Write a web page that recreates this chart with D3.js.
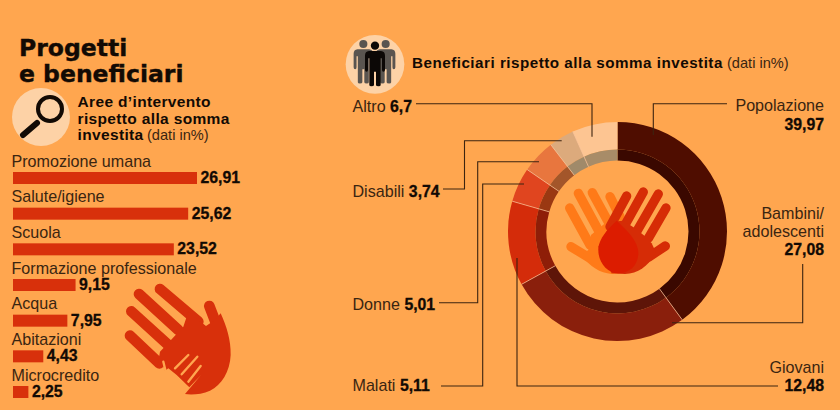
<!DOCTYPE html>
<html>
<head>
<meta charset="utf-8">
<script src="https://cdn.jsdelivr.net/npm/d3@7"></script>
<style>
  html, body { margin: 0; padding: 0; background: #ffa64f; }
  svg { display: block; font-family: "Liberation Sans", sans-serif; }
</style>
</head>
<body>
<div id="chart"></div>
<script>
// Aree d'intervento
const areeNomi = ["Promozione umana", "Salute/igiene", "Scuola", "Formazione professionale", "Acqua", "Abitazioni", "Microcredito"];
const areeValori = [26.91, 25.62, 23.52, 9.15, 7.95, 4.43, 2.25];

// Beneficiari, clockwise from the top
const benefNomi = ["Popolazione", "Bambini/adolescenti", "Giovani", "Malati", "Donne", "Disabili", "Altro"];
const benefValori = [39.97, 27.08, 12.48, 5.11, 5.01, 3.74, 6.7];

const coloriEsterni = ["#4f0d00", "#8a1f0c", "#d42c0a", "#e0451f", "#e8763e", "#dcaa7c", "#fdc592"];
const coloriInterni = ["#3a0800", "#5e1508", "#8e1e08", "#9a3812", "#a3562a", "#a08a6a", "#a88c68"];

const width = 840, height = 410;
const bg = "#ffa64f", ink = "#120a04", labelInk = "#3a2511", red = "#d8300b";
const fmt = (v) => String(v).replace(".", ",");

const svg = d3.select("#chart").append("svg").attr("width", width).attr("height", height);
svg.append("rect").attr("width", width).attr("height", height).attr("fill", bg);

// Title
["Progetti", "e beneficiari"].forEach((t, i) => {
  svg.append("text").attr("x", 19).attr("y", 56 + i * 26).attr("font-family", "DejaVu Sans")
    .attr("font-size", 23.5).attr("font-weight", 700).attr("fill", ink)
    .attr("stroke", ink).attr("stroke-width", 0.4).text(t);
});

// Magnifier icon
const lens = svg.append("g");
lens.append("circle").attr("cx", 41).attr("cy", 117).attr("r", 29).attr("fill", "#fdd2a6");
lens.append("circle").attr("cx", 50).attr("cy", 109).attr("r", 12).attr("fill", "none").attr("stroke", ink).attr("stroke-width", 4);
lens.append("line").attr("x1", 23).attr("y1", 135).attr("x2", 37).attr("y2", 123)
  .attr("stroke", ink).attr("stroke-width", 6).attr("stroke-linecap", "round");

// Left sub heading
["Aree d\u2019intervento", "rispetto alla somma", "investita"].forEach((t, i) => {
  svg.append("text").attr("x", 77.5).attr("y", 107 + i * 16.5).attr("font-size", 15.5)
    .attr("letter-spacing", 0.35).attr("font-weight", 700).attr("fill", ink).text(t);
});
svg.append("text").attr("x", 147).attr("y", 140).attr("font-size", 14.6).attr("fill", labelInk).text("(dati in%)");

// Bars
const x = d3.scaleLinear().domain([0, 26.91]).range([0, 184]);
const y = d3.scalePoint().domain(areeNomi).range([172, 386]);
const barH = 12;

const righe = svg.append("g").selectAll("g").data(areeNomi).join("g");
righe.append("rect")
  .attr("x", 13).attr("y", (d) => y(d))
  .attr("width", (d, i) => x(areeValori[i])).attr("height", barH)
  .attr("fill", red);
righe.append("text")
  .attr("x", 11.5).attr("y", (d) => y(d) - 5.5)
  .attr("font-size", 16.1).attr("fill", labelInk).text((d) => d);
righe.append("text")
  .attr("x", (d, i) => 13 + x(areeValori[i]) + 3.5).attr("y", (d) => y(d) + 11)
  .attr("font-size", 15.8).attr("font-weight", 700).attr("fill", ink)
  .attr("stroke", ink).attr("stroke-width", 0.3)
  .text((d, i) => fmt(areeValori[i]));

// Hand with small hand, bottom left
const mano = svg.append("g").attr("transform", "translate(120,280) scale(0.3333)");
[[[120, 27], [235, 125]], [[57, 42], [175, 150]], [[34, 94], [145, 195]], [[30, 167], [118, 250]], [[268, 78], [290, 135]]].forEach((f) => {
  mano.append("path").attr("d", d3.line()(f)).attr("stroke", red).attr("stroke-width", 32)
    .attr("stroke-linecap", "round").attr("fill", "none");
});
mano.append("path")
  .attr("d", "M205,95 L258,138 L285,120 L302,100 C320,140 333,180 332,225 C330,275 305,315 270,332 C245,343 215,345 195,342 L243,285 L208,322 L170,285 L145,265 L135,272 L125,245 L112,262 L120,215 L155,178 L190,140 Z")
  .attr("fill", red);
[[[165, 265], [205, 225]], [[185, 283], [232, 230]], [[205, 305], [242, 258]], [[130, 245], [136, 270]]].forEach((f) => {
  mano.append("path").attr("d", d3.line()(f)).attr("stroke", bg).attr("stroke-width", 7)
    .attr("stroke-linecap", "round").attr("fill", "none");
});

// People icon
const gente = svg.append("g").attr("transform", "translate(340,30) scale(0.3333)");
gente.append("circle").attr("cx", 105).attr("cy", 103).attr("r", 88).attr("fill", "#fdd2a6");
const persona = (cx, cy, k, col) => {
  const g = gente.append("g").attr("transform", `translate(${cx},${cy}) scale(${k})`).attr("fill", col);
  g.append("circle").attr("cx", 0).attr("cy", 0).attr("r", 12.5);
  g.append("path").attr("d", "M-18,16 L18,16 Q30,17 30,30 L30,72 Q30,78 25,78 Q21,78 21,72 L21,38 L17,38 L17,118 Q17,122 11,122 Q3,122 3,118 L3,78 L-3,78 L-3,118 Q-3,122 -11,122 Q-17,122 -17,118 L-17,38 L-21,38 L-21,72 Q-21,78 -25,78 Q-30,78 -30,72 L-30,30 Q-30,17 -18,16 Z");
};
persona(70, 42, 0.97, "#5a5550");
persona(137, 42, 0.97, "#5a5550");
persona(105, 47, 1, "#0c0806");

// Right heading
svg.append("text").attr("x", 412).attr("y", 68).attr("font-size", 15.2).attr("letter-spacing", 0.5)
  .attr("font-weight", 700).attr("fill", ink).text("Beneficiari rispetto alla somma investita");
svg.append("text").attr("x", 727).attr("y", 68).attr("font-size", 14.6).attr("fill", labelInk).text("(dati in%)");

// Donut
const cx = 617.5, cy = 231.5;
const pie = d3.pie().sort(null).value((d) => d);
const archi = pie(benefValori);
const esterno = d3.arc().innerRadius(82).outerRadius(109.5);
const interno = d3.arc().innerRadius(71).outerRadius(82);
const donut = svg.append("g").attr("transform", `translate(${cx},${cy})`);
donut.selectAll("path.est").data(archi).join("path").attr("class", "est")
  .attr("d", esterno).attr("fill", (d, i) => coloriEsterni[i]);
donut.selectAll("path.int").data(archi).join("path").attr("class", "int")
  .attr("d", interno).attr("fill", (d, i) => coloriInterni[i]);
// thin light separators between slices
donut.selectAll("line").data(archi.slice(1)).join("line")
  .attr("x1", (d) => d3.pointRadial(d.startAngle, 71)[0])
  .attr("y1", (d) => d3.pointRadial(d.startAngle, 71)[1])
  .attr("x2", (d) => d3.pointRadial(d.startAngle, 109.5)[0])
  .attr("y2", (d) => d3.pointRadial(d.startAngle, 109.5)[1])
  .attr("stroke", "#f6c4a0").attr("stroke-width", 0.7);

// Hands inside the donut
const mani = svg.append("g").attr("transform", "translate(555,180) scale(0.3333)");
const dito = (pts, col, w) => mani.append("path").attr("d", d3.line()(pts)).attr("stroke", col)
  .attr("stroke-width", w).attr("stroke-linecap", "round").attr("fill", "none");
const arancio = "#ff7a18", rosso = "#d62c06";
[[[44, 84], [105, 195]], [[70, 40], [135, 160]], [[112, 38], [165, 135]], [[165, 50], [195, 110]], [[48, 200], [105, 235]]].forEach((f) => dito(f, arancio, 28));
mani.append("path").attr("d", "M108,165 L152,128 L195,108 L235,200 L220,278 L170,282 C135,278 105,262 80,225 L100,210 Z").attr("fill", arancio);
[[[215, 48], [165, 140]], [[265, 36], [210, 135]], [[310, 42], [245, 155]], [[333, 84], [280, 175]], [[331, 198], [280, 232]]].forEach((f) => dito(f, rosso, 28));
mani.append("path").attr("d", "M170,125 L205,122 L240,145 L272,170 L290,190 L302,215 C285,255 250,282 210,282 L170,280 L130,200 Z").attr("fill", rosso);
mani.append("path").attr("d", "M185,122 C215,150 252,185 250,222 C248,258 222,280 190,280 C155,280 128,245 130,205 C132,175 160,145 185,122 Z").attr("fill", "#dc1c00");

// Leader lines
const linea = d3.line();
[
  [[416, 103.7], [592, 103.7], [592, 136.7]],
  [[443, 189], [464.5, 189], [464.5, 140.7], [561.7, 140.7]],
  [[439, 302.7], [477.7, 302.7], [477.7, 161.7], [539, 161.7]],
  [[441, 386], [482.7, 386], [482.7, 184], [524, 184]],
  [[517, 258], [517, 386], [778, 386]],
  [[727, 103.7], [653.3, 103.7], [653.3, 135]],
  [[802.7, 264], [802.7, 322.7], [672, 322.7]],
].forEach((p) => {
  svg.append("path").attr("d", linea(p)).attr("fill", "none").attr("stroke", "#3c2410").attr("stroke-width", 1.1);
});

// Donut labels on the left, name then bold value
const etichettaSx = (i, yy) => {
  const t = svg.append("text").attr("x", 352.5).attr("y", yy).attr("font-size", 16.1).attr("fill", labelInk);
  t.append("tspan").text(benefNomi[i] + " ");
  t.append("tspan").attr("font-weight", 700).attr("fill", ink).attr("font-size", 15.8)
    .attr("stroke", ink).attr("stroke-width", 0.3).text(fmt(benefValori[i]));
};
etichettaSx(6, 111.5);
etichettaSx(5, 196.5);
etichettaSx(4, 310);
etichettaSx(3, 390.5);

// Donut labels on the right, right aligned
const destra = (t, yy, bold) => svg.append("text").attr("x", 824).attr("y", yy).attr("text-anchor", "end")
  .attr("font-size", bold ? 15.8 : 16.1).attr("font-weight", bold ? 700 : 400)
  .attr("stroke", bold ? ink : "none").attr("stroke-width", 0.3)
  .attr("fill", bold ? ink : labelInk).text(t);
destra(benefNomi[0], 111, false);
destra(fmt(benefValori[0]), 129.5, true);
destra("Bambini/", 219, false);
destra("adolescenti", 237, false);
destra(fmt(benefValori[1]), 255, true);
destra(benefNomi[2], 372.7, false);
destra(fmt(benefValori[2]), 391, true);
</script>
</body>
</html>
